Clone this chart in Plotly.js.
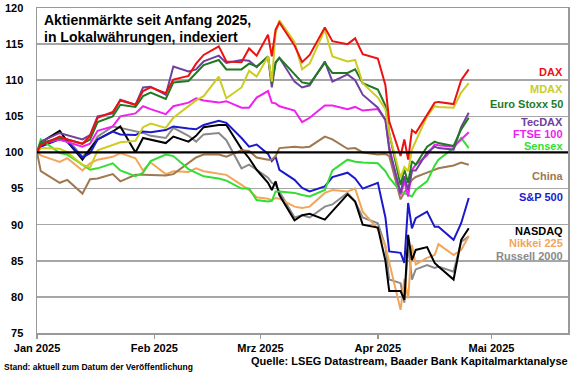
<!DOCTYPE html>
<html>
<head>
<meta charset="utf-8">
<script src="https://cdn.plot.ly/plotly-3.0.1.min.js"></script>
<style>html,body{margin:0;padding:0;background:#fff;}#chart{width:580px;height:375px;}</style>
</head>
<body>
<div id="chart"></div>
<script>
const dates = ['2025-01-01','2025-01-02','2025-01-07','2025-01-09','2025-01-13','2025-01-15','2025-01-17','2025-01-21','2025-01-23','2025-01-27','2025-01-29','2025-01-31',
  '2025-02-04','2025-02-06','2025-02-10','2025-02-12','2025-02-14','2025-02-18','2025-02-20','2025-02-24','2025-02-26','2025-02-28',
  '2025-03-03','2025-03-04','2025-03-05','2025-03-06','2025-03-10','2025-03-12','2025-03-14','2025-03-18','2025-03-20','2025-03-24','2025-03-26','2025-03-28',
  '2025-04-01','2025-04-03','2025-04-04','2025-04-07','2025-04-08','2025-04-09','2025-04-10','2025-04-11','2025-04-14','2025-04-16','2025-04-17','2025-04-21','2025-04-23','2025-04-25'];

const dax = [100,101,102.2,101.8,101.2,102.3,104.8,105.6,107.2,106.6,108.5,109,
  108.2,110.1,110.6,112.3,113.5,114.7,112.6,112.5,114.4,113.4,
  116.3,113.3,117,118,114.8,112.5,113.5,117.3,115.4,115,115.8,113.6,
  113,109.3,104.3,99.5,101.8,99,103.1,102.7,105.2,106.9,107,106.7,110,111.5];
const mdax = [100,100.6,100.5,100,98.3,97.9,100.3,101,101.4,101.6,103.5,104,
  103.4,104.8,106.4,107.2,107.8,110.5,107.5,109,111.3,110.5,
  113.3,109.8,116.5,118.3,115.3,111.5,112.3,117,113.3,112.6,112.8,109.6,
  107.6,106,102.7,96.5,98,97.4,100.4,101.5,105,106.4,106.3,106.2,108.3,109.6];
const eurostoxx = [100,101.3,102,101.8,101.2,101.8,104.2,105,106.6,106.3,107.8,108.3,
  107.4,109.7,109.9,111,112.1,112.8,111.5,111.5,112.3,111.9,
  113.3,109.6,112.4,113.1,110.8,109.7,109.5,112.4,111,111,111.5,109.6,
  108.7,106.5,102.7,95.5,97.6,95.8,98.8,98.3,100.8,101.5,101.3,100.9,103.2,104.8];
const tecdax = [100,101.5,102.7,102.4,101.8,102.4,105,105.4,107.3,106.6,109,109.1,
  108,111.9,111.2,111.5,112.6,113.4,112.4,112.8,112.7,111.8,
  113.3,109,112.5,113.1,109.8,109,109.3,112.6,109.8,110.8,110,108,
  106.2,104.5,100.4,94.4,96.7,94.8,97.5,97.5,100,100.8,100.6,100.4,103.5,105.5];
const ftse = [100,101.2,101.8,101.5,100.8,101.2,103,103.6,105,105.4,106.4,106,
  105.3,106.4,106.9,107.5,107.2,106.9,107.1,106.2,106.2,107.6,
  108.5,106.9,106.8,106.4,105.8,104.2,104.8,106.5,106.5,106,106.3,105.8,
  106,104.5,100.8,94.1,96,93.9,97.6,98.3,99.6,101.1,101,100.8,101.8,102.8];
const sensex = [100,101.8,99.9,99.7,98.3,97.6,97.8,98.5,97.5,96.7,97.2,98.8,
  99.7,99.5,97.7,97.2,96.7,96.4,96.1,95,95,93.4,
  93.2,93.3,94.6,94.6,94.4,94.1,93.9,94.8,97.5,99,98.7,98.6,
  98.5,97.4,96.5,94.6,94.4,94.2,93.9,94.8,96,98.2,99,100.6,102,100.6];
const china = [100,97.4,95.8,96.2,94.3,96.3,96.4,97,96,96.9,96.9,96.9,
  96.8,97,98.5,99.3,99.7,99.7,99.4,100.3,100.2,99.3,
  99,99,99.5,100.6,100.8,100.7,100.8,102.2,101.8,100.5,100.6,100,
  99.7,99.8,99.5,93.5,94.5,95.2,96.2,96.6,97.2,97.6,97.8,98.2,98.6,98.3];
const sp500 = [100,100.8,101.8,101.5,99.3,99.9,101.8,102.9,102.5,102.4,102.9,102.8,
  103.1,103.6,103.3,103.2,103.8,104.4,104.1,102,100.8,101.1,
  99.8,98.8,99.4,97.6,96.2,95.1,94.6,95.3,96.6,97.2,96.4,95,
  95.8,91,86.3,86.1,84.7,93,89.5,90.9,91.8,89.7,89.7,87.9,90.2,93.7];
const nasdaq = [100,101.4,103,101.5,99,100.5,101.8,102.9,103.6,100,102,101.8,
  101.3,102.2,101.5,102.3,103.5,103.8,103.8,100.5,99.2,97.6,
  95.8,94.8,96,94.1,90.6,91.3,91.5,90.7,91.9,94.2,93.2,90,
  89.6,85,80.8,80.8,79.6,88.6,85.1,86.5,86.9,84.7,84.2,82.4,87.9,89.5];
const nikkei = [100,99.6,98.7,99.2,97.5,98.5,99,99.4,99.9,99.2,97.5,98.6,
  97,97.4,97.3,97.8,97.4,97,96.9,95.5,94.8,93.8,
  93.6,93.4,93.7,93.6,92.5,92.3,92.5,94.4,94.8,94.6,95,91.8,
  89.4,87,84.7,78.2,82.5,79.8,87.2,84.5,85.4,85.8,87.3,85.8,86.5,88.4];
const russell = [100,100.8,102.2,101.8,99.4,100.4,102.2,103.6,103.4,102.9,102.7,102.3,
  102,103.4,102.3,101.5,102.5,102.7,101.7,97.8,98.3,97.6,
  96.5,95.8,95.5,94.6,91,91.3,91,92.5,92.8,94.4,93.2,91,
  90.2,87,82.4,81.9,79.2,87.4,82.4,83.8,84.4,84,84.2,83.5,87.6,88.4];

const seriesNames = ['DAX','MDAX','Euro Stoxx 50','TecDAX','FTSE 100','Sensex','China','S&P 500','NASDAQ','Nikkei 225','Russell 2000'];
const tickVals = ['2025-01-01','2025-02-01','2025-03-01','2025-04-01','2025-05-01'];
const tickText = ['Jan 2025','Feb 2025','Mrz 2025','Apr 2025','Mai 2025'];
const titleLines = ['Aktienmärkte seit Anfang 2025,','in Lokalwährungen, indexiert'];
const sourceText = 'Quelle: LSEG Datastream, Baader Bank Kapitalmarktanalyse';
const standText = 'Stand: aktuell zum Datum der Veröffentlichung';

const seriesData = {
  'DAX': dax, 'MDAX': mdax, 'Euro Stoxx 50': eurostoxx, 'TecDAX': tecdax, 'FTSE 100': ftse,
  'Sensex': sensex, 'China': china, 'S&P 500': sp500, 'NASDAQ': nasdaq, 'Nikkei 225': nikkei, 'Russell 2000': russell
};
const colors = {
  'DAX': '#ee1111', 'MDAX': '#cccc22', 'Euro Stoxx 50': '#1f7a1f', 'TecDAX': '#7040a0', 'FTSE 100': '#ee22ee',
  'Sensex': '#33dd33', 'China': '#a07850', 'S&P 500': '#1a1acc', 'NASDAQ': '#000000', 'Nikkei 225': '#f2a65a', 'Russell 2000': '#8a8a8a'
};
const labelY = {
  'DAX': 111.14, 'MDAX': 108.78, 'Euro Stoxx 50': 106.7, 'TecDAX': 104.25, 'FTSE 100': 102.6, 'Sensex': 100.85,
  'China': 96.68, 'S&P 500': 93.82, 'NASDAQ': 89.15, 'Nikkei 225': 87.45, 'Russell 2000': 85.72
};
const drawOrder = ['Russell 2000','Nikkei 225','NASDAQ','S&P 500','China','Sensex','FTSE 100','TecDAX','Euro Stoxx 50','MDAX','DAX'];

const FONT = 'Arial, "Liberation Sans", sans-serif';
const traces = drawOrder.map(n => ({
  type: 'scatter', mode: 'lines', name: n, x: dates, y: seriesData[n],
  line: {color: colors[n], width: 2}, hoverinfo: 'skip'
}));

const annotations = seriesNames.map(n => ({
  xref: 'paper', yref: 'y', x: 0.9944, y: labelY[n], xanchor: 'right', yanchor: 'middle',
  text: n, showarrow: false, font: {family: FONT, size: 11, weight: 'bold', color: colors[n]}
}));
annotations.push({xref:'paper', yref:'paper', x:0.009, y:0.9945, xanchor:'left', yanchor:'top',
  text: titleLines[0], showarrow:false, font:{family:FONT, size:14, weight:'bold', color:'#000'}});
annotations.push({xref:'paper', yref:'paper', x:0.009, y:0.9425, xanchor:'left', yanchor:'top',
  text: titleLines[1], showarrow:false, font:{family:FONT, size:14, weight:'bold', color:'#000'}});
annotations.push({xref:'paper', yref:'paper', x:1.004, y:-0.087, xanchor:'right', yanchor:'middle',
  text: sourceText, showarrow:false, font:{family:FONT, size:11, weight:'bold', color:'#000'}});
annotations.push({xref:'paper', yref:'paper', x:-0.066, y:-0.106, xanchor:'left', yanchor:'middle',
  text: standText, showarrow:false, font:{family:FONT, size:8.5, weight:'bold', color:'#000'}});

const layout = {
  width: 580, height: 375, autosize: false,
  margin: {l: 37, r: 12, t: 8, b: 42, pad: 0},
  paper_bgcolor: '#fff', plot_bgcolor: '#fff',
  showlegend: false,
  xaxis: {
    type: 'date', range: ['2025-01-01', '2025-05-21 05:00'],
    tickmode: 'array', tickvals: tickVals, ticktext: tickText,
    ticks: 'outside', ticklen: 4, tickwidth: 1.5, tickcolor: '#999',
    showgrid: false, zeroline: false,
    showline: true, linecolor: '#999', linewidth: 1.5, mirror: true,
    tickfont: {family: FONT, size: 11, weight: 'bold', color: '#000'}
  },
  yaxis: {
    range: [75, 120], tickmode: 'linear', tick0: 75, dtick: 5,
    showgrid: true, gridcolor: '#a6a6a6', gridwidth: 1.5, zeroline: false,
    showline: true, linecolor: '#999', linewidth: 1.5, mirror: true,
    ticks: '', ticklabelstandoff: 10,
    tickfont: {family: FONT, size: 11, weight: 'bold', color: '#000'}
  },
  shapes: [{type: 'line', xref: 'paper', yref: 'y', x0: 0, x1: 1, y0: 100, y1: 100,
    line: {color: '#000', width: 2.2}, layer: 'above'}],
  annotations: annotations
};

Plotly.newPlot('chart', traces, layout, {staticPlot: true, displayModeBar: false});
</script>
</body>
</html>
